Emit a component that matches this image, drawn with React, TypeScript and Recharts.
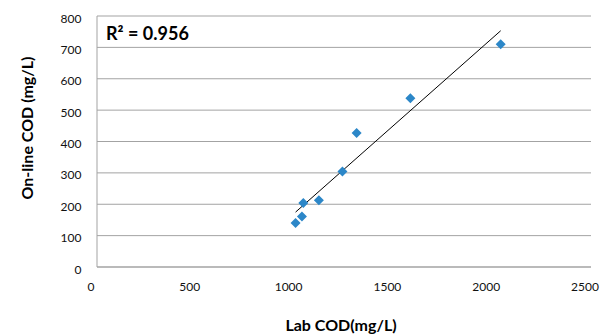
import { ScatterChart, Scatter, XAxis, YAxis, CartesianGrid } from "recharts";

// lab vs on-line COD samples
const labCod = [1005, 1037, 1044, 1123, 1242, 1314, 1586, 2043];
const onlineCod = [140, 161, 204, 213, 304, 427, 538, 710];

// linear trendline endpoints (as drawn in the figure)
const trendX = [1005, 2043];
const trendY = [175, 753];

const xTicks = [0, 500, 1000, 1500, 2000, 2500];
const yTicks = [0, 100, 200, 300, 400, 500, 600, 700, 800];
const rSquared = "0.956";

const points = labCod.map((x, i) => ({ x, y: onlineCod[i] }));
const trend = trendX.map((x, i) => ({ x, y: trendY[i] }));

const FONT = "Lato, 'Open Sans', sans-serif";
const BLUE = "#2c87c8";
const GRID = "#a3a3a3";

const Diamond = (props: any) => {
  const { cx, cy } = props;
  const r = 5;
  return <path d={`M${cx},${cy - r}L${cx + r},${cy}L${cx},${cy + r}L${cx - r},${cy}Z`} fill={BLUE} />;
};

const XTick = ({ x, y, payload }: any) => (
  <text x={x - 6} y={y + 19.5} textAnchor="middle" dominantBaseline="central" fontFamily={FONT} fontSize={12} fill="#111">
    {payload.value}
  </text>
);

const YTick = ({ x, y, payload }: any) => (
  <text x={x - 15.5} y={y + 2} textAnchor="end" dominantBaseline="central" fontFamily={FONT} fontSize={12} fill="#111">
    {payload.value}
  </text>
);

export default function App() {
  return (
    <div style={{ position: "relative", width: 613, height: 335, fontFamily: FONT, background: "#fff" }}>
      <style>{`body{margin:0}`}</style>
      <ScatterChart width={613} height={335} margin={{ top: 16, right: 22, bottom: 38, left: 37 }}>
        <CartesianGrid vertical={false} stroke={GRID} strokeWidth={1} />
        <XAxis type="number" dataKey="x" domain={[0, 2500]} ticks={xTicks} height={30}
          stroke={GRID} tickLine={false} tickSize={0} tickMargin={0} tick={<XTick />} />
        <YAxis type="number" dataKey="y" domain={[0, 800]} ticks={yTicks} width={60}
          stroke={GRID} tickLine={false} tickSize={0} tickMargin={0} tick={<YTick />} />
        <Scatter data={trend} line={{ stroke: "#000", strokeWidth: 1 }} shape={() => <g />} isAnimationActive={false} />
        <Scatter data={points} shape={<Diamond />} isAnimationActive={false} />
      </ScatterChart>
      <div style={{ position: "absolute", left: 106, top: 22, fontSize: 18, fontWeight: 700, color: "#000", whiteSpace: "nowrap" }}>
        R² = {rSquared}
      </div>
      <div style={{ position: "absolute", left: 341, top: 324, transform: "translate(-50%,-50%)", fontSize: 16, fontWeight: 700, whiteSpace: "nowrap" }}>
        Lab COD(mg/L)
      </div>
      <div style={{ position: "absolute", left: 26, top: 128, transform: "translate(-50%,-50%) rotate(-90deg)", fontSize: 16, fontWeight: 700, whiteSpace: "nowrap" }}>
        On-line COD (mg/L)
      </div>
    </div>
  );
}
